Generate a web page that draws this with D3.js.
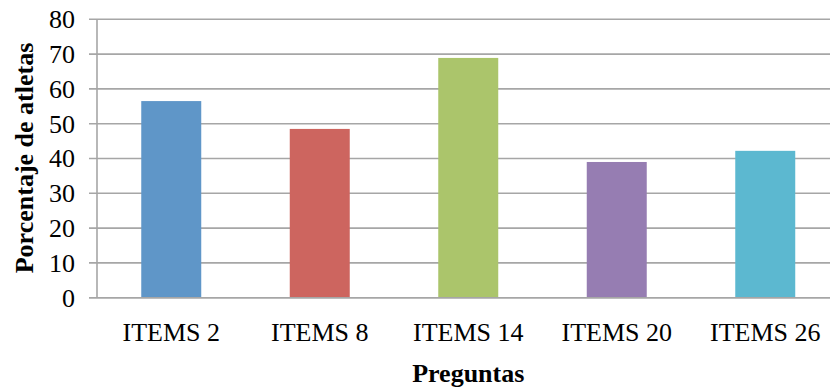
<!DOCTYPE html>
<html>
<head>
<meta charset="utf-8">
<script src="https://cdn.jsdelivr.net/npm/d3@7"></script>
<style>
  html, body { margin: 0; padding: 0; background: #fff; }
  svg { display: block; }
  svg text { font-family: "Liberation Serif", "Times New Roman", serif !important; fill: #000; }
</style>
</head>
<body>
<svg id="chart" width="830" height="388"></svg>
<script>
// Porcentaje de atletas por pregunta
const categories = ["ITEMS 2", "ITEMS 8", "ITEMS 14", "ITEMS 20", "ITEMS 26"];
const values = [56.5, 48.5, 68.9, 39.0, 42.2];
const colors = ["#5F96C8", "#CD655F", "#ABC56B", "#967DB2", "#5CB8D0"];
const yTicks = [0, 10, 20, 30, 40, 50, 60, 70, 80];

const svg = d3.select("#chart");
const plotLeft = 97, plotRight = 839.5, plotTop = 19.3, plotBottom = 297.7;
const gridColor = "#a6a6a6";
const serif = '"Liberation Serif", "Times New Roman", serif';

const x = d3.scaleBand().domain(categories).range([plotLeft, plotRight]).paddingInner(0.596).paddingOuter(0.298);
const y = d3.scaleLinear().domain([0, 80]).range([plotBottom, plotTop]);

// horizontal gridlines, starting at the tick-mark position left of the axis
svg.append("g").selectAll("line").data(yTicks).join("line")
  .attr("x1", plotLeft - 8).attr("x2", 830)
  .attr("y1", d => y(d)).attr("y2", d => y(d))
  .attr("stroke", gridColor).attr("stroke-width", 1.6);

// vertical axis line
svg.append("line")
  .attr("x1", plotLeft).attr("x2", plotLeft)
  .attr("y1", y(80)).attr("y2", y(0))
  .attr("stroke", gridColor).attr("stroke-width", 1.6);

// y tick labels
const yAxis = d3.axisLeft(y).tickValues(yTicks).tickSize(0).tickPadding(22);
const gy = svg.append("g").attr("transform", `translate(${plotLeft},0)`).call(yAxis);
gy.attr("font-family", null).attr("font-size", null);
gy.select(".domain").remove();
gy.selectAll("text")
  .style("font-family", serif)
  .style("font-size", "26px").attr("fill", "#000");

// bars
svg.append("g").selectAll("rect").data(categories).join("rect")
  .attr("x", d => x(d))
  .attr("width", x.bandwidth())
  .attr("y", (d, i) => y(values[i]))
  .attr("height", (d, i) => y(0) - y(values[i]))
  .attr("fill", (d, i) => colors[i]);

// redraw the baseline over the bars
svg.append("line")
  .attr("x1", plotLeft - 8).attr("x2", 830)
  .attr("y1", y(0)).attr("y2", y(0))
  .attr("stroke", gridColor).attr("stroke-width", 1.6);

// category labels
const xAxis = d3.axisBottom(x).tickSize(0).tickPadding(0);
const gx = svg.append("g").attr("transform", `translate(0,${plotBottom})`).call(xAxis);
gx.attr("font-family", null).attr("font-size", null);
gx.select(".domain").remove();
gx.selectAll("text")
  .style("font-family", serif)
  .style("font-size", "26px").attr("fill", "#000")
  .attr("dy", null).attr("y", 43);

// axis titles
svg.append("text")
  .attr("x", (plotLeft + plotRight) / 2).attr("y", 382)
  .attr("text-anchor", "middle")
  .style("font-family", serif)
  .style("font-size", "26px").style("font-weight", "bold")
  .text("Preguntas");

svg.append("text")
  .attr("transform", `translate(33,158) rotate(-90)`)
  .attr("text-anchor", "middle")
  .style("font-family", serif)
  .style("font-size", "26px").style("font-weight", "bold")
  .text("Porcentaje de atletas");
</script>
</body>
</html>
